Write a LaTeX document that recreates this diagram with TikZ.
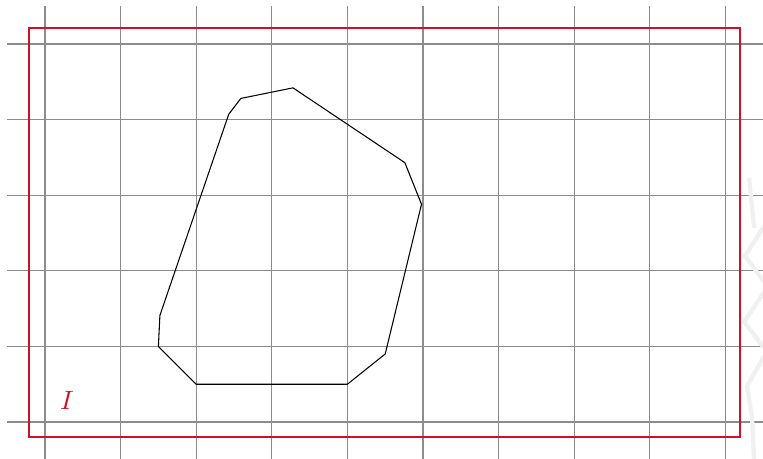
\documentclass[tikz,border=0pt]{standalone}
\definecolor{boxred}{RGB}{208,16,40}
\tikzset{
  gridline/.style={draw=gray!90, line width=0.45pt},
  frame/.style={draw=boxred, line width=0.85pt},
  outline/.style={draw=black, line width=0.4pt, line join=round},
  ghost/.style={draw=gray!12, line width=1.6pt}
}
\begin{document}
\begin{tikzpicture}
\useasboundingbox (-0.595,-0.489) rectangle (9.497,5.582);
\draw[gridline, step=1] (-0.5,-0.5) grid (9.5,5.5);
% faint partial shape at the right edge
\begin{scope}[x=0.013228cm, y=-0.013228cm, shift={(-45,-422)}]
  \draw[ghost] (749,178) -- (754,228);
  \draw[ghost] (764,226) -- (745,256) -- (764,282);
  \draw[ghost] (764,292) -- (744,322) -- (764,348);
  \draw[ghost] (764,356) -- (747,386) -- (752,418) -- (754,460);
\end{scope}
\draw[frame] (-0.212,-0.198) rectangle (9.193,5.212);
\draw[outline] (2.59,4.28) -- (3.28,4.42) -- (4.76,3.43) -- (4.98,2.88) -- (4.5,0.9) -- (4,0.5) -- (2,0.5) -- (1.5,1) -- (1.52,1.41) -- (2.43,4.07) -- cycle;
\node[text=boxred] (lbl) at (0.29,0.29) {$I$};
\end{tikzpicture}
\end{document}
